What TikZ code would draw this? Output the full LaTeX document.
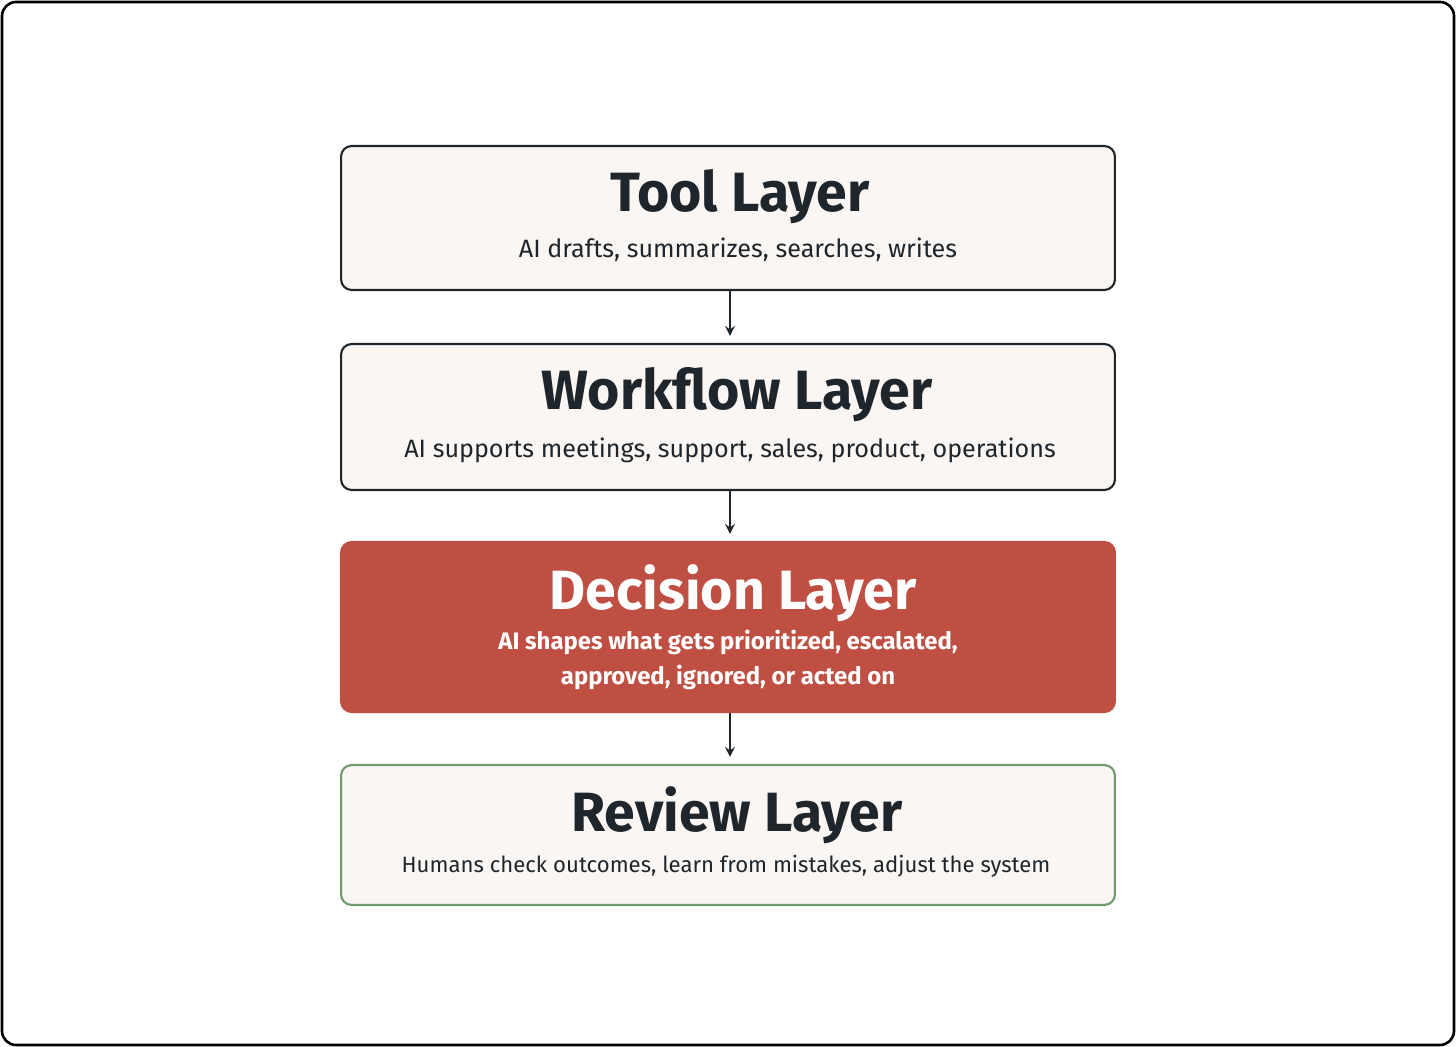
\documentclass[tikz,border=0pt]{standalone}
\usepackage{fontspec}
\setmainfont{Fira Sans}
\usetikzlibrary{positioning}
\definecolor{boxfill}{HTML}{F9F6F3}
\definecolor{decred}{HTML}{BF4F42}
\definecolor{revgreen}{HTML}{6E9A6E}
\definecolor{ink}{HTML}{1F262B}
\tikzset{
  layer/.style={draw=ink, line width=1.2pt, rounded corners=6pt, fill=boxfill,
    minimum width=15.48cm, inner sep=0pt},
  title/.style={font=\fontsize{31.5}{36}\selectfont\bfseries, text=ink},
  sub/.style={font=\fontsize{14.3}{19}\selectfont, text=ink, align=center},
  flow/.style={->, >=stealth, line width=1.5pt, draw=ink, shorten >=4pt}
}
\begin{document}
\begin{tikzpicture}[x=0.02cm,y=-0.02cm]
\useasboundingbox (0,0) rectangle (1456,1047);
\draw[line width=1.5pt, rounded corners=8pt] (2,2) rectangle (1454,1045);

% the four layers
\node[layer, minimum height=2.88cm] (tool) at (728,218) {};
\node[layer, minimum height=2.92cm] (work) at (728,417) {};
\node[layer, draw=decred, fill=decred, minimum height=3.4cm] (dec) at (728,627) {};
\node[layer, draw=revgreen, minimum height=2.8cm] (rev) at (728,835) {};

% texts
\node[title] (toolt) at (740,197) {Tool Layer};
\node[sub] (tools) at (738,250) {AI drafts, summarizes, searches, writes};
\node[title] (workt) at (737,395) {Workflow Layer};
\node[sub] (works) at (730,450) {AI supports meetings, support, sales, product, operations};
\node[title, text=white] (dect) at (733,593) {Decision Layer};
\node[sub, text=white, font=\fontsize{13.6}{19.5}\selectfont\bfseries] (decs) at (728,660)
  {AI shapes what gets prioritized, escalated,\\approved, ignored, or acted on};
\node[title] (revt) at (737,815) {Review Layer};
\node[sub, font=\fontsize{12.6}{17}\selectfont] (revs) at (726,866) {Humans check outcomes, learn from mistakes, adjust the system};

% arrows
\draw[flow] (tool.south) ++(2,0) coordinate (a1) -- (a1 |- work.north) ;
\draw[flow] (work.south) ++(2,0) coordinate (a2) -- (a2 |- dec.north);
\draw[flow] (dec.south) ++(2,0) coordinate (a3) -- (a3 |- rev.north);
\end{tikzpicture}
\end{document}
